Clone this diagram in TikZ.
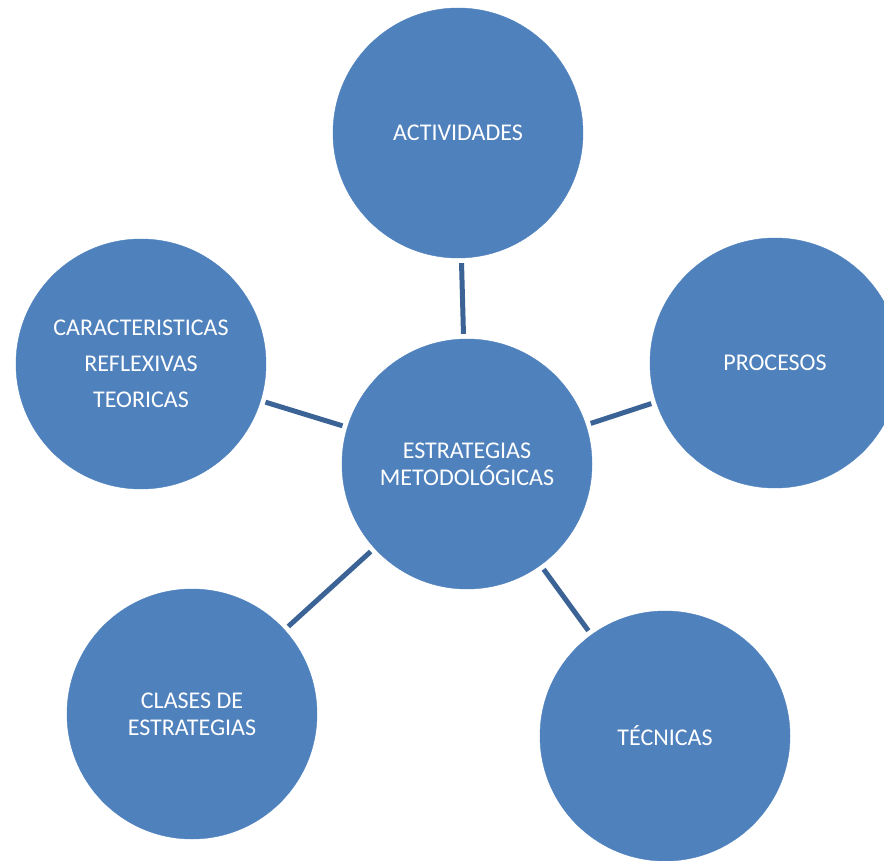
\documentclass[tikz,border=0pt]{standalone}
\usepackage{fontspec}
\setmainfont{Carlito}
\definecolor{circfill}{HTML}{4F81BD}
\definecolor{linkcol}{HTML}{3C6396}
\begin{document}
\begin{tikzpicture}[x=1pt,y=-1pt,
  bubble/.style={circle,fill=circfill,draw=circfill,minimum size=250pt,inner sep=0pt,
    text=white,align=center,font=\fontsize{24}{27}\selectfont},
  link/.style={draw=linkcol,line width=5pt,shorten <=5pt,shorten >=5pt}]
\useasboundingbox (0,0) rectangle (884,861);
\node[bubble] (c) at (467,464) {ESTRATEGIAS\\METODOLÓGICAS};
\node[bubble] (act) at (458,133) {ACTIVIDADES};
\node[bubble] (pro) at (775,363) {PROCESOS};
\node[bubble,font=\fontsize{24}{36}\selectfont] (car) at (141,364) {CARACTERISTICAS\\REFLEXIVAS\\TEORICAS};
\node[bubble] (cla) at (192,714) {CLASES DE\\ESTRATEGIAS};
\node[bubble] (tec) at (665,736) {TÉCNICAS};
\draw[link] (act) -- (c);
\draw[link] (car) -- (c);
\draw[link] (pro) -- (c);
\draw[link] (cla) -- (c);
\draw[link] (tec) -- (c);
\end{tikzpicture}
\end{document}
